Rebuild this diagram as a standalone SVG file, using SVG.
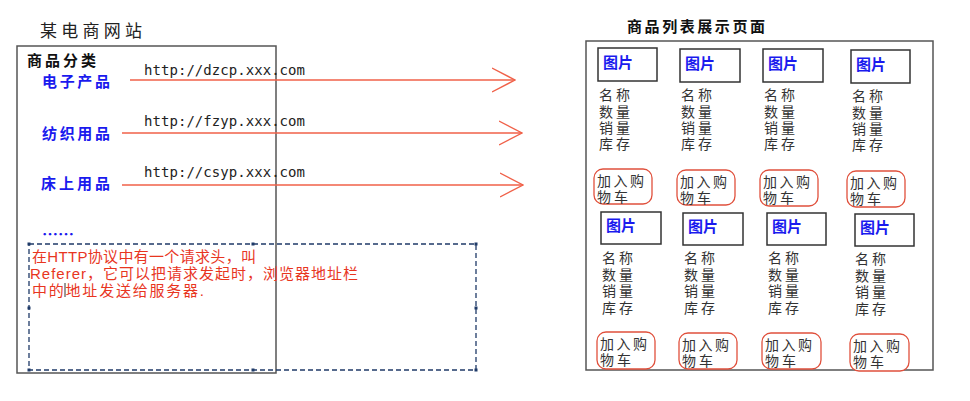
<svg xmlns="http://www.w3.org/2000/svg" width="970" height="401" viewBox="0 0 970 401">
<defs>
<style>
text{font-family:"Noto Sans CJK SC","Noto Sans",sans-serif;}
.title{font-size:17px;fill:#222;}
.hdr{font-size:15px;font-weight:bold;fill:#111;}
.cat{font-size:15px;font-weight:bold;fill:#1a1aee;}
.url{font-family:"DejaVu Sans Mono",monospace;font-size:14px;fill:#222;}
.note{font-family:"Liberation Sans","Noto Sans CJK SC",sans-serif;font-size:15px;fill:#e8361f;}
.pic{fill:#fff;stroke:#333;stroke-width:1.5;}
.pict{font-size:15px;font-weight:bold;fill:#1a1aee;}
.info{font-family:"Liberation Sans","Noto Sans CJK SC",sans-serif;font-size:14px;fill:#333;}
.btn{fill:#fff;stroke:#e0503c;stroke-width:1.3;}
.btnt{font-family:"Liberation Sans","Noto Sans CJK SC",sans-serif;font-size:14px;fill:#333;}
.frame{fill:none;stroke:#555;stroke-width:1.5;}
.arrow{fill:none;stroke:#f06048;stroke-width:1.5;}
.dash{fill:none;stroke:#1f3a68;stroke-width:1.3;stroke-dasharray:5 3;}
.hdl{fill:#1f3a68;}
</style>
<marker id="open" viewBox="0 0 24 26" refX="23" refY="13" markerWidth="24" markerHeight="26" markerUnits="userSpaceOnUse" orient="auto">
<path d="M0,1 L23,13 L0,25" fill="none" stroke="#f06048" stroke-width="1.4"/>
</marker>
</defs>
<rect width="970" height="401" fill="#fff"/>

<g id="site">
<text class="title" x="40" y="37" textLength="102" lengthAdjust="spacing">某电商网站</text>
<rect class="frame" x="17" y="46" width="259" height="327"/>
<text class="hdr" x="27" y="66" textLength="69" lengthAdjust="spacing">商品分类</text>
</g>
<g id="cat-dzcp"><text class="cat" x="42" y="87" textLength="68" lengthAdjust="spacing">电子产品</text></g>
<g id="cat-fzyp"><text class="cat" x="42" y="139" textLength="68" lengthAdjust="spacing">纺织用品</text></g>
<g id="cat-csyp"><text class="cat" x="41" y="189" textLength="69" lengthAdjust="spacing">床上用品</text></g>
<g id="cat-more"><text class="cat" x="42" y="240" textLength="32" lengthAdjust="spacingAndGlyphs">……</text></g>

<g id="connectors">
<line class="arrow" x1="130" y1="80" x2="515" y2="80" marker-end="url(#open)"/>
<line class="arrow" x1="122" y1="133" x2="522" y2="133" marker-end="url(#open)"/>
<line class="arrow" x1="122" y1="185" x2="523" y2="185" marker-end="url(#open)"/>
<text class="url" x="144" y="75" textLength="161" lengthAdjust="spacing">http://dzcp.xxx.com</text>
<text class="url" x="144" y="126" textLength="161" lengthAdjust="spacing">http://fzyp.xxx.com</text>
<text class="url" x="144" y="177" textLength="161" lengthAdjust="spacing">http://csyp.xxx.com</text>
</g>

<g id="note">
<rect class="dash" x="29" y="244" width="447" height="126"/>
<rect class="hdl" x="27.5" y="242.5" width="3" height="3"/>
<rect class="hdl" x="251.5" y="242.5" width="3" height="3"/>
<rect class="hdl" x="474.5" y="242.5" width="3" height="3"/>
<rect class="hdl" x="27.5" y="306.5" width="3" height="3"/>
<rect class="hdl" x="474.5" y="306.5" width="3" height="3"/>
<rect class="hdl" x="27.5" y="368.5" width="3" height="3"/>
<rect class="hdl" x="251.5" y="368.5" width="3" height="3"/>
<rect class="hdl" x="474.5" y="368.5" width="3" height="3"/>
<text class="note"><tspan x="32" y="262" textLength="224" lengthAdjust="spacing">在HTTP协议中有一个请求头，叫</tspan><tspan x="30" y="279" textLength="328" lengthAdjust="spacing">Referer，它可以把请求发起时，浏览器地址栏</tspan><tspan x="32" y="296" textLength="172" lengthAdjust="spacing">中的地址发送给服务器.</tspan></text>
<line x1="65" y1="283" x2="65" y2="297" stroke="#333" stroke-width="1"/>
</g>

<g id="list-page">
<text class="hdr" x="627" y="32" textLength="138" lengthAdjust="spacing">商品列表展示页面</text>
<rect class="frame" x="586" y="41" width="347" height="329"/>
</g>

<g id="item-1-1">
<rect class="pic" x="598" y="48" width="59" height="33"/>
<text class="pict" x="603" y="68">图片</text>
<text class="info"><tspan x="599" y="100" textLength="31">名称</tspan><tspan x="599" y="117" textLength="31">数量</tspan><tspan x="599" y="133" textLength="31">销量</tspan><tspan x="599" y="149" textLength="31">库存</tspan></text>
<rect class="btn" x="594" y="169" width="58" height="35" rx="9"/>
<text class="btnt"><tspan x="597" y="186" textLength="47">加入购</tspan><tspan x="597" y="202" textLength="31">物车</tspan></text>
</g>
<g id="item-1-2">
<rect class="pic" x="680" y="49" width="60" height="33"/>
<text class="pict" x="685" y="69">图片</text>
<text class="info"><tspan x="681" y="100" textLength="31">名称</tspan><tspan x="681" y="117" textLength="31">数量</tspan><tspan x="681" y="133" textLength="31">销量</tspan><tspan x="681" y="149" textLength="31">库存</tspan></text>
<rect class="btn" x="677" y="170" width="58" height="35" rx="9"/>
<text class="btnt"><tspan x="680" y="187" textLength="47">加入购</tspan><tspan x="680" y="203" textLength="31">物车</tspan></text>
</g>
<g id="item-1-3">
<rect class="pic" x="763" y="49" width="60" height="33"/>
<text class="pict" x="768" y="69">图片</text>
<text class="info"><tspan x="764" y="100" textLength="31">名称</tspan><tspan x="764" y="117" textLength="31">数量</tspan><tspan x="764" y="133" textLength="31">销量</tspan><tspan x="764" y="149" textLength="31">库存</tspan></text>
<rect class="btn" x="760" y="170" width="58" height="36" rx="9"/>
<text class="btnt"><tspan x="763" y="187" textLength="47">加入购</tspan><tspan x="763" y="203" textLength="31">物车</tspan></text>
</g>
<g id="item-1-4">
<rect class="pic" x="851" y="50" width="59" height="33"/>
<text class="pict" x="856" y="70">图片</text>
<text class="info"><tspan x="852" y="101" textLength="31">名称</tspan><tspan x="852" y="118" textLength="31">数量</tspan><tspan x="852" y="134" textLength="31">销量</tspan><tspan x="852" y="150" textLength="31">库存</tspan></text>
<rect class="btn" x="847" y="171" width="58" height="36" rx="9"/>
<text class="btnt"><tspan x="850" y="188" textLength="47">加入购</tspan><tspan x="850" y="204" textLength="31">物车</tspan></text>
</g>

<g id="item-2-1">
<rect class="pic" x="601" y="212" width="60" height="32"/>
<text class="pict" x="606" y="231">图片</text>
<text class="info"><tspan x="602" y="263" textLength="31">名称</tspan><tspan x="602" y="280" textLength="31">数量</tspan><tspan x="602" y="296" textLength="31">销量</tspan><tspan x="602" y="313" textLength="31">库存</tspan></text>
<rect class="btn" x="597" y="332" width="58" height="37" rx="9"/>
<text class="btnt"><tspan x="600" y="349" textLength="47">加入购</tspan><tspan x="600" y="365" textLength="31">物车</tspan></text>
</g>
<g id="item-2-2">
<rect class="pic" x="683" y="213" width="60" height="32"/>
<text class="pict" x="688" y="232">图片</text>
<text class="info"><tspan x="684" y="263" textLength="31">名称</tspan><tspan x="684" y="280" textLength="31">数量</tspan><tspan x="684" y="296" textLength="31">销量</tspan><tspan x="684" y="313" textLength="31">库存</tspan></text>
<rect class="btn" x="679" y="333" width="58" height="36" rx="9"/>
<text class="btnt"><tspan x="682" y="350" textLength="47">加入购</tspan><tspan x="682" y="366" textLength="31">物车</tspan></text>
</g>
<g id="item-2-3">
<rect class="pic" x="767" y="213" width="59" height="32"/>
<text class="pict" x="772" y="232">图片</text>
<text class="info"><tspan x="768" y="263" textLength="31">名称</tspan><tspan x="768" y="280" textLength="31">数量</tspan><tspan x="768" y="296" textLength="31">销量</tspan><tspan x="768" y="313" textLength="31">库存</tspan></text>
<rect class="btn" x="762" y="333" width="59" height="36" rx="9"/>
<text class="btnt"><tspan x="765" y="350" textLength="47">加入购</tspan><tspan x="765" y="366" textLength="31">物车</tspan></text>
</g>
<g id="item-2-4">
<rect class="pic" x="855" y="214" width="59" height="32"/>
<text class="pict" x="860" y="233">图片</text>
<text class="info"><tspan x="855" y="264" textLength="31">名称</tspan><tspan x="855" y="281" textLength="31">数量</tspan><tspan x="855" y="297" textLength="31">销量</tspan><tspan x="855" y="314" textLength="31">库存</tspan></text>
<rect class="btn" x="850" y="334" width="59" height="37" rx="9"/>
<text class="btnt"><tspan x="853" y="351" textLength="47">加入购</tspan><tspan x="853" y="367" textLength="31">物车</tspan></text>
</g>
</svg>
